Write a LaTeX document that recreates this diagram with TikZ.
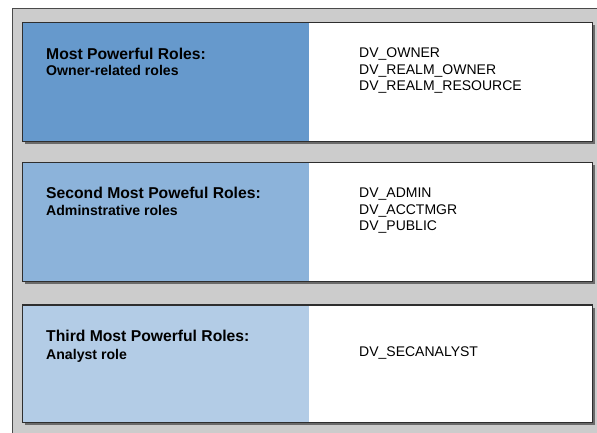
\documentclass[tikz,border=0pt]{standalone}
\usepackage{fontspec}
\setmainfont{Liberation Sans}
\definecolor{panelgray}{HTML}{CCCCCC}
\definecolor{panelline}{HTML}{4A4A4A}
\definecolor{boxline}{HTML}{2E2E2E}
\definecolor{shadowgray}{HTML}{6A6A6A}
\definecolor{blueA}{HTML}{6699CC}
\definecolor{blueB}{HTML}{8CB3DA}
\definecolor{blueC}{HTML}{B3CCE6}
\tikzset{
  titletext/.style={anchor=base west, inner sep=0pt, font=\fontsize{15.7}{18}\selectfont\bfseries},
  subtext/.style={anchor=base west, inner sep=0pt, font=\fontsize{14.1}{16}\selectfont\bfseries},
  roletext/.style={anchor=base west, inner sep=0pt, align=left, font=\fontsize{14}{16.6}\selectfont},
  boxframe/.style={draw=boxline, line width=1.4pt},
  boxshadow/.style={fill=shadowgray}
}
\begin{document}
\begin{tikzpicture}[x=1pt,y=-1pt]
\useasboundingbox (0,0) rectangle (597,432);
% outer panel
\fill[white] (0,0) rectangle (597,432);
\fill[panelgray] (12.5,8.5) rectangle (600,436);
\draw[panelline, line width=0.9pt] (12.5,436) -- (12.5,8.5) -- (600,8.5);
% box 1
\fill[boxshadow] (25.2,25.2) rectangle (595.2,144.2);
\fill[blueA] (22.7,22.7) rectangle (308.5,141.7);
\fill[white] (308.5,22.7) rectangle (592.7,141.7);
\draw[boxframe] (22.7,22.7) rectangle (592.7,141.7);
% box 2
\fill[boxshadow] (25.2,165.2) rectangle (595.2,284.2);
\fill[blueB] (22.7,162.7) rectangle (308.5,281.7);
\fill[white] (308.5,162.7) rectangle (592.7,281.7);
\draw[boxframe] (22.7,162.7) rectangle (592.7,281.7);
% box 3
\fill[boxshadow] (25.2,307.5) rectangle (595.2,425.2);
\fill[blueC] (22.7,305) rectangle (308.5,422.7);
\fill[white] (308.5,305) rectangle (592.7,422.7);
\draw[boxframe] (22.7,305) rectangle (592.7,422.7);
% texts box 1
\node[titletext] (t1) at (46,59) {Most Powerful Roles:};
\node[subtext] (s1) at (46,75.5) {Owner-related roles};
\node[roletext] (r1a) at (359,57.3) {DV\_OWNER};
\node[roletext] (r1b) at (359,74) {DV\_REALM\_OWNER};
\node[roletext] (r1c) at (359,90.6) {DV\_REALM\_RESOURCE};
% texts box 2
\node[titletext] (t2) at (46,198.7) {Second Most Poweful Roles:};
\node[subtext] (s2) at (46,215.2) {Adminstrative roles};
\node[roletext] (r2a) at (359,197.3) {DV\_ADMIN};
\node[roletext] (r2b) at (359,214) {DV\_ACCTMGR};
\node[roletext] (r2c) at (359,230.6) {DV\_PUBLIC};
% texts box 3
\node[titletext] (t3) at (46,341.5) {Third Most Powerful Roles:};
\node[subtext] (s3) at (46,359) {Analyst role};
\node[roletext] (r3a) at (359,356.7) {DV\_SECANALYST};
\end{tikzpicture}
\end{document}
